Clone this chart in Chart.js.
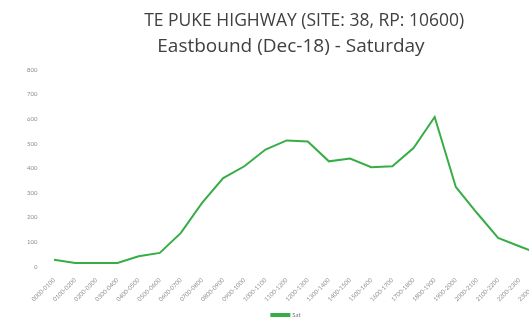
<!DOCTYPE html>
<html>
<head>
<meta charset="utf-8">
<script src="https://cdn.jsdelivr.net/npm/chart.js@4"></script>
<style>
  html, body { margin: 0; padding: 0; background: #fff; overflow: hidden; }
  #wrap { position: absolute; left: 0; top: 0; width: 594px; height: 328px; }
</style>
</head>
<body>
<div id="wrap"><canvas id="trafficChart"></canvas></div>
<script>
// Data
const hours = ['0000-0100', '0100-0200', '0200-0300', '0300-0400', '0400-0500', '0500-0600',
    '0600-0700', '0700-0800', '0800-0900', '0900-1000', '1000-1100', '1100-1200',
    '1200-1300', '1300-1400', '1400-1500', '1500-1600', '1600-1700', '1700-1800',
    '1800-1900', '1900-2000', '2000-2100', '2100-2200', '2200-2300', '2300-2400'];
const saturday = [28, 15, 15, 15, 42, 56, 137, 259, 360, 408, 476, 513,
    509, 428, 439, 404, 408, 482, 608, 324, 218, 117, 83, 50];
const seriesName = 'Sat';
// leading spaces nudge the lines right, like the source chart
const titleText = '        TE PUKE HIGHWAY (SITE: 38, RP: 10600)';
const subtitleText = '  Eastbound (Dec-18) - Saturday';

const tickFont = { family: 'Lato', size: 6 };

// Chart
const trafficChart = new Chart(document.getElementById('trafficChart').getContext('2d'), {
    type: 'line',
    data: {
        labels: hours,
        datasets: [{
            label: seriesName,
            data: saturday,
            borderColor: '#37ad46',
            backgroundColor: '#37ad46',
            borderWidth: 2,
            pointRadius: 0,
            tension: 0,
        }],
    },
    options: {
        responsive: true,
        maintainAspectRatio: false,
        animation: false,
        layout: { padding: { left: 21, right: 43, top: 11, bottom: 0 } },
        plugins: {
            title: {
                display: true,
                text: titleText,
                color: '#404040',
                font: { family: 'Open Sans', size: 17.5, weight: 'normal', lineHeight: 1.2 },
                padding: { top: 0, bottom: 2 },
            },
            subtitle: {
                display: true,
                text: subtitleText,
                color: '#404040',
                font: { family: 'Open Sans', size: 19, weight: 'normal', lineHeight: 1.2 },
                padding: { top: 1, bottom: 12 },
            },
            legend: {
                position: 'bottom',
                labels: {
                    boxWidth: 18,
                    boxHeight: 2,
                    color: '#777',
                    font: tickFont,
                    padding: 4,
                },
            },
            tooltip: { enabled: false },
        },
        scales: {
            x: {
                offset: true,
                grid: { display: false },
                border: { display: false },
                afterFit: (scale) => { scale.height += 3; },
                ticks: {
                    color: '#8c8c8c',
                    font: tickFont,
                    minRotation: 45,
                    maxRotation: 45,
                    autoSkip: false,
                    padding: 2,
                },
            },
            y: {
                min: 0,
                max: 800,
                grid: { display: false, drawTicks: false },
                border: { display: false },
                ticks: {
                    stepSize: 100,
                    color: '#8c8c8c',
                    font: tickFont,
                    padding: 6,
                },
            },
        },
    },
});
</script>
</body>
</html>
